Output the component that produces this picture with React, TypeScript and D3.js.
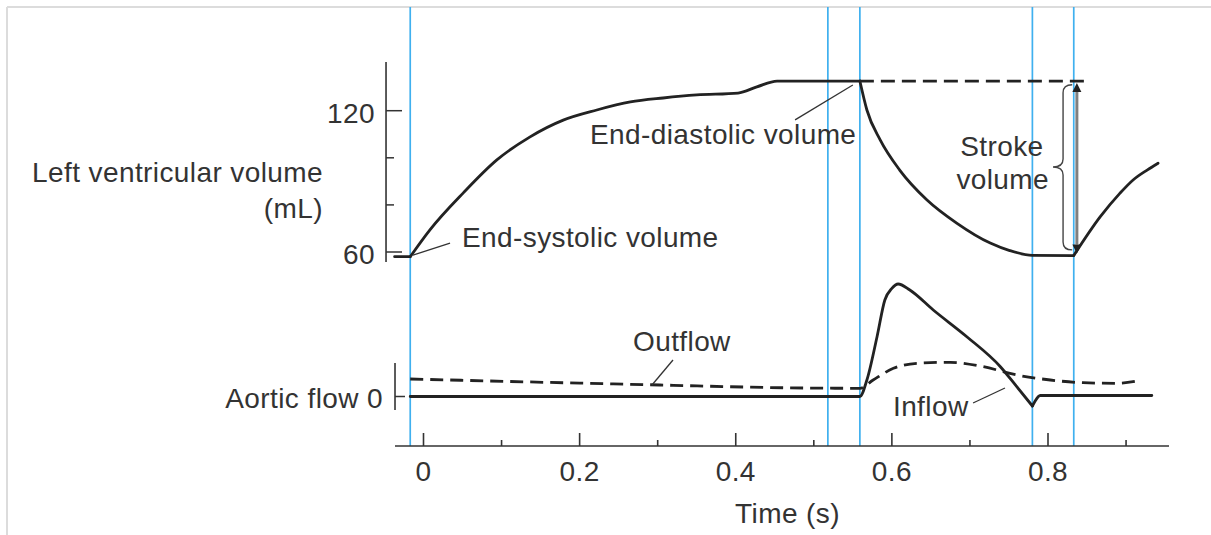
import React from "react";
import * as d3 from "d3";

// ---------- data (time in s, volume in mL, aortic flow in arbitrary units) ----------
const majorTimeTicks = [0, 0.2, 0.4, 0.6, 0.8];
const minorTimeTicks = [0.1, 0.3, 0.5, 0.7, 0.9];
const majorVolumeTicks = [60, 120];
const minorVolumeTicks = [80, 100];
const eventTimes = [-0.017, 0.518, 0.559, 0.78, 0.833];

const esPlateau: [number, number][] = [
  [-0.037, 58], [-0.017, 58],
];
const fillingVolume: [number, number][] = [
  [-0.017, 58], [0.008, 69.3], [0.051, 85.1], [0.094, 99.1], [0.136, 108.8],
  [0.179, 116], [0.222, 120.3], [0.265, 123.7], [0.307, 125.4], [0.35, 126.7],
  [0.403, 127.5], [0.427, 130.1], [0.453, 132.6], [0.559, 132.6],
];
const ejectionVolume: [number, number][] = [
  [0.559, 132.6], [0.568, 120.3], [0.585, 107.6], [0.61, 94.8], [0.645, 82.1],
  [0.683, 72.3], [0.726, 63.8], [0.751, 60.6], [0.78, 58.6], [0.833, 58.5],
];
const refillVolume: [number, number][] = [
  [0.833, 58.5], [0.867, 75.0], [0.892, 84.9], [0.909, 90.6], [0.927, 94.8], [0.941, 97.7],
];
const edvDashed: [number, number][] = [
  [0.559, 132.6], [0.854, 132.6],
];
const inflowMain: [number, number][] = [
  [-0.017, 0], [0.559, 0], [0.568, 16.5], [0.581, 59.8], [0.591, 96.5], [0.6, 108.2],
  [0.608, 112.5], [0.623, 106.5], [0.653, 86.5], [0.696, 59.8], [0.739, 29.8],
  [0.76, 9.8], [0.78, -9.5],
];
const inflowTail: [number, number][] = [
  [0.78, -9.5], [0.783, -5.2], [0.79, 1], [0.933, 1],
];
const outflow: [number, number][] = [
  [-0.017, 17.5], [0.243, 12.6], [0.517, 8.3], [0.559, 8.2], [0.576, 16.5],
  [0.602, 28.2], [0.632, 33.2], [0.675, 34.2], [0.717, 29.8], [0.76, 21.5],
  [0.803, 16.5], [0.845, 13.8], [0.888, 13.2], [0.916, 15.8],
];

const FONT = "'Liberation Sans', Arial, Helvetica, sans-serif";
const INK = "#222";
const TXT = "#333";
const BLUE = "#3fb0ef";

export default function App() {
  const W = 1211, H = 535;
  const axisY = 446;
  const fs = 28;

  const x = d3.scaleLinear().domain([0, 0.8]).range([423.5, 1048]);
  const yV = d3.scaleLinear().domain([60, 120]).range([252, 110.7]);
  const yF = d3.scaleLinear().domain([0, 100]).range([396.5, 296.5]);

  const vLine = d3.line<[number, number]>().x(d => x(d[0])).y(d => yV(d[1])).curve(d3.curveMonotoneX);
  const fLine = d3.line<[number, number]>().x(d => x(d[0])).y(d => yF(d[1])).curve(d3.curveMonotoneX);

  const xAxisStart = x(-0.0365);
  const xAxisEnd = x(0.955);
  const vAxisX = x(-0.048);
  const fAxisX = x(-0.0365);

  // stroke volume arrow and brace
  const svX = x(0.837);
  const svTop = yV(132.6) + 2;
  const svBot = yV(58.5) - 2;
  const bx0 = x(0.831), bxm = x(0.8193), bx1 = x(0.8064);
  const by0 = yV(131.0), by1 = yV(60.9), bym = yV(96.1);
  const r = 8;
  const brace = `M${bx0},${by0} Q${bxm},${by0} ${bxm},${by0 + r} L${bxm},${bym - r} Q${bxm},${bym} ${bx1},${bym} Q${bxm},${bym} ${bxm},${bym + r} L${bxm},${by1 - r} Q${bxm},${by1} ${bx0},${by1}`;
  const ah = 9, aw = 4.5;

  const textProps = { fontFamily: FONT, fontSize: fs, fill: TXT, letterSpacing: 0.4 };

  return (
    <svg width={W} height={H} style={{ position: "absolute", left: 0, top: 0, background: "#fff" }}>
      {/* frame */}
      <line x1={7} y1={7} x2={W} y2={7} stroke="#dcdcdc" strokeWidth={2} />
      <line x1={7} y1={7} x2={7} y2={H} stroke="#dcdcdc" strokeWidth={2} />

      {/* event lines */}
      {eventTimes.map((t, i) => (
        <line key={i} x1={x(t)} x2={x(t)} y1={7} y2={axisY} stroke={BLUE} strokeWidth={1.7} />
      ))}

      {/* volume axis */}
      <line x1={vAxisX} x2={vAxisX} y1={yV(140.7)} y2={yV(55.8)} stroke="#333" strokeWidth={1.6} />
      {majorVolumeTicks.map(v => (
        <g key={v}>
          <line x1={vAxisX} x2={vAxisX + 16} y1={yV(v)} y2={yV(v)} stroke="#333" strokeWidth={1.5} />
          <text x={vAxisX - 11} y={yV(v) + 2.5} textAnchor="end" dominantBaseline="central" {...textProps}>{v}</text>
        </g>
      ))}
      {minorVolumeTicks.map(v => (
        <line key={v} x1={vAxisX} x2={vAxisX + 8} y1={yV(v)} y2={yV(v)} stroke="#333" strokeWidth={1.5} />
      ))}
      <text x={323} y={172} textAnchor="end" dominantBaseline="central" {...textProps}>Left ventricular volume</text>
      <text x={323} y={208} textAnchor="end" dominantBaseline="central" {...textProps}>(mL)</text>

      {/* flow axis */}
      <line x1={fAxisX} x2={fAxisX} y1={yF(33.5)} y2={yF(-13.5)} stroke="#333" strokeWidth={1.6} />
      <line x1={fAxisX} x2={fAxisX + 10} y1={yF(0)} y2={yF(0)} stroke="#333" strokeWidth={1.5} />
      <text x={fAxisX - 12} y={yF(0) + 1.5} textAnchor="end" dominantBaseline="central" {...textProps}>Aortic flow 0</text>

      {/* time axis */}
      <line x1={xAxisStart} x2={xAxisEnd} y1={axisY} y2={axisY} stroke="#333" strokeWidth={1.6} />
      {majorTimeTicks.map(t => (
        <g key={t}>
          <line x1={x(t)} x2={x(t)} y1={axisY} y2={axisY - 13} stroke="#333" strokeWidth={1.6} />
          <text x={x(t)} y={471} textAnchor="middle" dominantBaseline="central" {...textProps}>{t === 0 ? "0" : String(t)}</text>
        </g>
      ))}
      {minorTimeTicks.map(t => (
        <line key={t} x1={x(t)} x2={x(t)} y1={axisY} y2={axisY - 6} stroke="#333" strokeWidth={1.6} />
      ))}
      <text x={787.5} y={513} textAnchor="middle" dominantBaseline="central" {...textProps}>Time (s)</text>

      {/* volume curves */}
      {[esPlateau, fillingVolume, ejectionVolume, refillVolume].map((seg, i) => (
        <path key={i} d={vLine(seg) || ""} fill="none" stroke={INK} strokeWidth={2.8} strokeLinejoin="round" strokeLinecap="round" />
      ))}
      <path d={vLine(edvDashed) || ""} fill="none" stroke={INK} strokeWidth={2.8} strokeDasharray="14,7" />

      {/* flow curves */}
      <path d={fLine(outflow) || ""} fill="none" stroke={INK} strokeWidth={2.8} strokeDasharray="13,7" />
      {[inflowMain, inflowTail].map((seg, i) => (
        <path key={i} d={fLine(seg) || ""} fill="none" stroke={INK} strokeWidth={2.8} strokeLinejoin="round" strokeLinecap="round" />
      ))}

      {/* stroke volume arrow */}
      <line x1={svX} x2={svX} y1={svTop + ah} y2={svBot - ah} stroke="#808080" strokeWidth={3} />
      <path d={`M${svX},${svTop} L${svX - aw},${svTop + ah} L${svX + aw},${svTop + ah} Z`} fill={INK} />
      <path d={`M${svX},${svBot} L${svX - aw},${svBot - ah} L${svX + aw},${svBot - ah} Z`} fill={INK} />
      <path d={brace} fill="none" stroke="#444" strokeWidth={1.4} />
      <text x={x(0.741)} y={yV(104.6)} textAnchor="middle" dominantBaseline="central" {...textProps}>Stroke</text>
      <text x={x(0.742)} y={yV(90.6)} textAnchor="middle" dominantBaseline="central" {...textProps}>volume</text>

      {/* annotations */}
      <line x1={x(0.476)} y1={yV(116.1)} x2={x(0.55)} y2={yV(130.9)} stroke="#333" strokeWidth={1.3} />
      <text x={x(0.2133)} y={yV(109.7)} dominantBaseline="central" {...textProps}>End-diastolic volume</text>

      <line x1={x(0.034)} y1={yV(63.8)} x2={x(-0.0135)} y2={yV(58.7)} stroke="#333" strokeWidth={1.3} />
      <text x={x(0.0493)} y={yV(66.0)} dominantBaseline="central" {...textProps}>End-systolic volume</text>

      <line x1={x(0.3196)} y1={yF(36.5)} x2={x(0.2927)} y2={yF(11.5)} stroke="#333" strokeWidth={1.3} />
      <text x={x(0.331)} y={yF(55.5)} textAnchor="middle" dominantBaseline="central" {...textProps}>Outflow</text>

      <line x1={x(0.704)} y1={yF(-6.5)} x2={x(0.7449)} y2={yF(8.5)} stroke="#333" strokeWidth={1.3} />
      <text x={x(0.6014)} y={yF(-9.5)} dominantBaseline="central" {...textProps}>Inflow</text>
    </svg>
  );
}
